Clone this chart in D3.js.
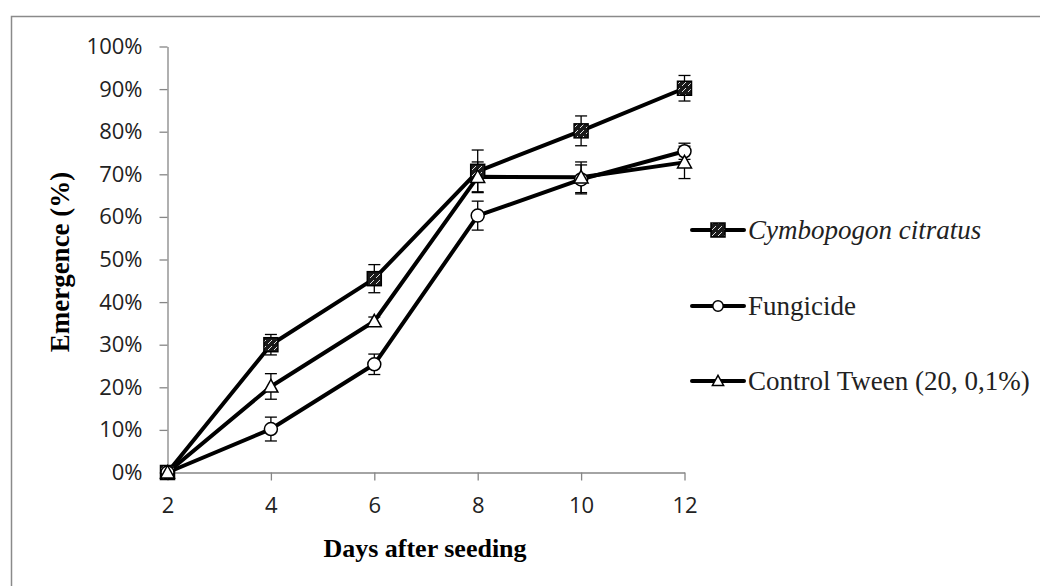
<!DOCTYPE html>
<html><head><meta charset="utf-8">
<script src="https://cdn.jsdelivr.net/npm/d3@7"></script>
<style>body{margin:0;background:#fff}svg{display:block}</style>
</head><body>
<script>
const days = [2, 4, 6, 8, 10, 12];
const yTicks = [0, 10, 20, 30, 40, 50, 60, 70, 80, 90, 100];
const seriesNames = ["Cymbopogon citratus", "Fungicide", "Control Tween (20, 0,1%)"];
const cymbopogon = [0, 30, 45.5, 70.7, 80.2, 90.2];
const cymbopogonErr = [0, 2.4, 3.3, 5, 3.5, 3];
const fungicide = [0, 10.2, 25.4, 60.3, 68.8, 75.4];
const fungicideErr = [0, 2.8, 2.4, 3.4, 3.4, 1.9];
const control = [0, 20.2, 35.5, 69.4, 69.3, 72.8];
const controlErr = [0, 3, 1, 3.5, 3.6, 3.8];

const W = 1040, H = 586;
const svg = d3.select("body").append("svg").attr("width", W).attr("height", H);
const defs = svg.append("defs");
const pat = defs.append("pattern").attr("id","hatch").attr("patternUnits","userSpaceOnUse")
  .attr("width",6).attr("height",6);
pat.append("rect").attr("width",6).attr("height",6).attr("fill","#1a1a1a");
pat.append("path").attr("d","M0,6 L2,4 M4,2 L6,0").attr("stroke","#ddd").attr("stroke-width",1);

// outer frame (top & left visible)
svg.append("path").attr("d","M11.5,590 L11.5,16.5 L1045,16.5").attr("fill","none")
  .attr("stroke","#8a8a8a").attr("stroke-width",1.5);

const x = d3.scaleLinear().domain([2, 12]).range([167.5, 684.5]);
const y = d3.scaleLinear().domain([0, 100]).range([472.5, 46.5]);

const axisColor = "#868686";
const yAxis = svg.append("g").attr("transform","translate(167.5,0)")
  .call(d3.axisLeft(y).tickValues(yTicks).tickSize(8).tickSizeOuter(0).tickFormat(d => d + "%").tickPadding(17));
const xAxis = svg.append("g").attr("transform","translate(0,472.5)")
  .call(d3.axisBottom(x).tickValues(days).tickSize(8).tickSizeOuter(0).tickPadding(17));
[yAxis, xAxis].forEach(g => {
  g.selectAll("path,line").attr("stroke", axisColor).attr("stroke-width",1.3);
  g.selectAll("text").attr("font-family","'Open Sans', 'Liberation Sans', sans-serif")
   .attr("font-size",22).attr("fill","#222");
});

svg.append("text").attr("transform","translate(69,262) rotate(-90)").attr("text-anchor","middle")
  .attr("font-family","'Liberation Serif', serif").attr("font-weight","bold").attr("font-size",27)
  .text("Emergence (%)");
svg.append("text").attr("x",425).attr("y",557).attr("text-anchor","middle")
  .attr("font-family","'Liberation Serif', serif").attr("font-weight","bold").attr("font-size",26)
  .text("Days after seeding");

const series = [
  {name: seriesNames[0], vals: cymbopogon, err: cymbopogonErr, marker: "square"},
  {name: seriesNames[1], vals: fungicide, err: fungicideErr, marker: "circle"},
  {name: seriesNames[2], vals: control, err: controlErr, marker: "triangle"}
];

const line = d3.line().x((d,i) => x(days[i])).y(d => y(d));

function drawMarker(g, type, cx, cy, scale) {
  const s = scale || 1;
  if (type === "square") {
    g.append("rect").attr("x",cx-7*s).attr("y",cy-7*s).attr("width",14*s).attr("height",14*s)
      .attr("fill","url(#hatch)").attr("stroke","#000").attr("stroke-width",1.5);
  } else if (type === "circle") {
    g.append("circle").attr("cx",cx).attr("cy",cy).attr("r",6.5*s)
      .attr("fill","#fff").attr("stroke","#000").attr("stroke-width",1.5);
  } else {
    const h = 7*s;
    g.append("path").attr("d",`M${cx},${cy-h} L${cx+h},${cy+h*0.8} L${cx-h},${cy+h*0.8} Z`)
      .attr("fill","#fff").attr("stroke","#000").attr("stroke-width",1.5);
  }
}

// error bars
series.forEach(s => {
  const g = svg.append("g");
  s.vals.forEach((v,i) => {
    if (!s.err[i]) return;
    const cx = x(days[i]);
    const y1 = y(v + s.err[i]), y2 = y(v - s.err[i]);
    g.append("line").attr("x1",cx).attr("x2",cx).attr("y1",y1).attr("y2",y2).attr("stroke","#000").attr("stroke-width",1.3);
    [y1,y2].forEach(yy => g.append("line").attr("x1",cx-6).attr("x2",cx+6).attr("y1",yy).attr("y2",yy)
      .attr("stroke","#000").attr("stroke-width",1.3));
  });
});

// lines
series.forEach(s => {
  svg.append("path").datum(s.vals).attr("d", line).attr("fill","none")
    .attr("stroke","#000").attr("stroke-width",4).attr("stroke-linejoin","round");
});
// markers
series.forEach(s => {
  const g = svg.append("g");
  s.vals.forEach((v,i) => drawMarker(g, s.marker, x(days[i]), y(v)));
});

// legend
const legY = [230, 306, 381];
series.forEach((s,i) => {
  const g = svg.append("g");
  g.append("line").attr("x1",692).attr("x2",744).attr("y1",legY[i]).attr("y2",legY[i])
    .attr("stroke","#000").attr("stroke-width",4).attr("stroke-linecap","round");
  drawMarker(g, s.marker, 718, legY[i], i===0 ? 1 : 0.8);
  g.append("text").attr("x",748).attr("y",legY[i]+9)
    .attr("font-family","'Liberation Serif', serif").attr("font-size",27).attr("fill","#222")
    .attr("font-style", i===0 ? "italic" : "normal").text(s.name);
});
</script>
</body></html>
